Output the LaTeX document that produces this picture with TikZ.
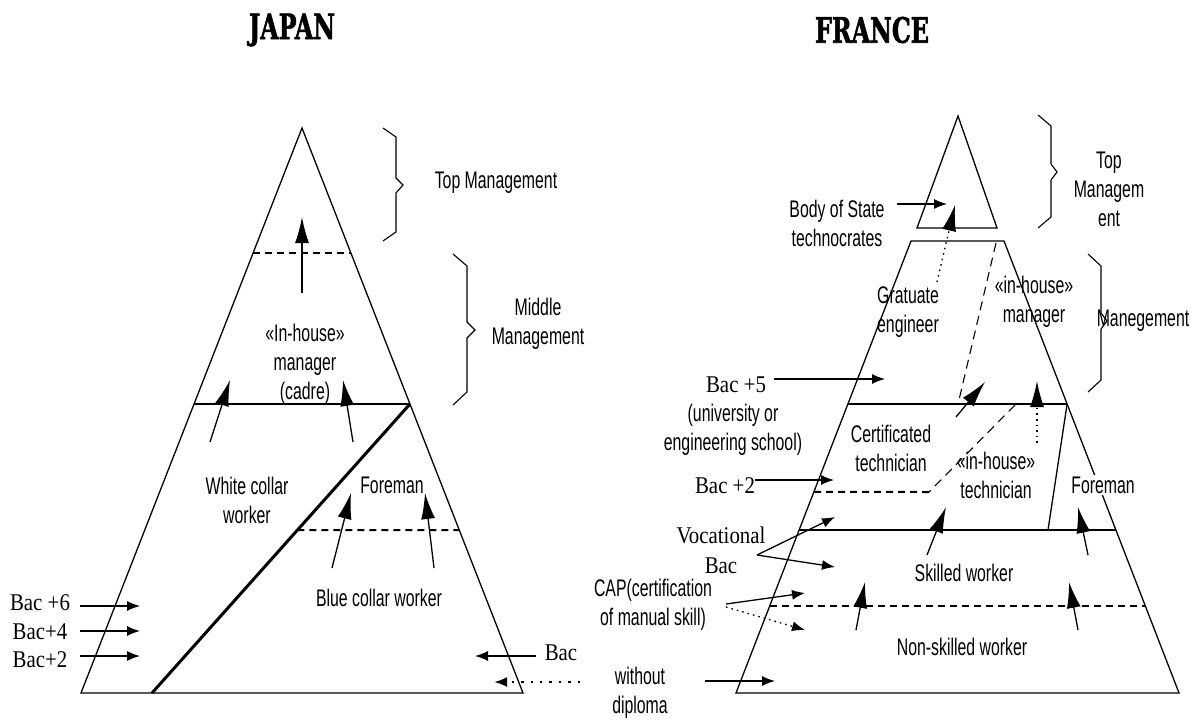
\documentclass[tikz,border=0pt]{standalone}
\usepackage{fontspec}
\usetikzlibrary{arrows.meta,calc}
\newfontfamily\arialn{Liberation Sans}[FakeStretch=0.66]
\newfontfamily\timesn{Liberation Serif}[FakeStretch=0.87]
\newfontfamily\titlef{DejaVu Serif}[FakeStretch=0.68, BoldFeatures={FakeBold=1.5}]
\tikzset{
  sans/.style={font=\arialn\fontsize{24}{29}\selectfont, align=center, inner sep=0pt},
  serif/.style={font=\timesn\fontsize{24}{30}\selectfont, align=center, inner sep=0pt},
  ttl/.style={font=\titlef\bfseries\fontsize{35}{35}\selectfont, inner sep=0pt},
  ln/.style={line width=1.3pt, line join=miter},
  thickln/.style={line width=3pt},
  dsh/.style={line width=2pt, dash pattern=on 7pt off 5pt},
  thindsh/.style={line width=1.1pt, dash pattern=on 9pt off 6pt},
  dotln/.style={dash pattern=on 1.6pt off 4pt},
  bigdots/.style={line width=2.4pt, dash pattern=on 2.4pt off 7pt},
  bigarr/.style={line width=1.3pt, -{Latex[length=26pt,width=14pt]}},
  smallarr/.style={line width=1.3pt, -{Latex[length=13pt,width=10pt]}},
}
\begin{document}
\begin{tikzpicture}[x=1pt,y=-1pt]
\useasboundingbox (0,0) rectangle (1201,720);
% ================= JAPAN =================
\node[ttl] (tJ) at (292,30) {JAPAN};
\coordinate (JA) at (302,128);
\coordinate (JL) at (81,693);
\coordinate (JR) at (523,693);
\draw[ln] (JA) -- (JR) -- (JL) -- cycle;
\coordinate (JDl) at ($(JA)!0.2212!(JL)$);
\coordinate (JDr) at ($(JA)!0.2212!(JR)$);
\draw[dsh] (JDl) -- (JDr);
\coordinate (JMl) at ($(JA)!0.4885!(JL)$);
\coordinate (JMr) at ($(JA)!0.4885!(JR)$);
\draw[ln] (JMl) -- (JMr);
\coordinate (JB2) at (152,693);
\draw[thickln] (JMr) -- (JB2);
\coordinate (JFl) at ($(JMr)!0.436!(JB2)$);
\coordinate (JFr) at ($(JA)!0.7115!(JR)$);
\draw[dsh] (JFl) -- (JFr);
% braces
\coordinate (bt1) at (383,128); \coordinate (bt2) at (396,137); \coordinate (bt3) at (396,178);
\coordinate (bt4) at (403,185); \coordinate (bt5) at (396,193); \coordinate (bt6) at (396,232);
\coordinate (bt7) at (383,241);
\draw[line width=1.1pt] (bt1) -- (bt2) -- (bt3) -- (bt4) -- (bt5) -- (bt6) -- (bt7);
\coordinate (bm1) at (453,254); \coordinate (bm2) at (467,266); \coordinate (bm3) at (467,322);
\coordinate (bm4) at (475,330); \coordinate (bm5) at (467,338); \coordinate (bm6) at (467,392);
\coordinate (bm7) at (453,405);
\draw[line width=1.1pt] (bm1) -- (bm2) -- (bm3) -- (bm4) -- (bm5) -- (bm6) -- (bm7);
% texts
\node[sans] (jtop) at (496,183) {Top Management};
\node[sans] (jmid) at (538,324) {Middle\\Management};
\node[sans] (jcad) at (305,364) {«In-house»\\manager\\(cadre)};
\node[sans] (jwhite) at (247,500) {White collar\\worker};
\node[sans] (jfore) at (392,485) {Foreman};
\node[sans] (jblue) at (379,598) {Blue collar worker};
\node[serif] (jb6) at (40,603) {Bac +6};
\node[serif] (jb4) at (40,632) {Bac+4};
\node[serif] (jb2) at (40,660) {Bac+2};
\node[serif] (jbac) at (561,653) {Bac};
% arrows
\coordinate (ja1s) at (302,293); \coordinate (ja1e) at (302,217);
\draw[bigarr] (ja1s) -- (ja1e);
\coordinate (ja2s) at (210,442); \coordinate (ja2e) at (230,380);
\draw[bigarr] (ja2s) -- (ja2e);
\coordinate (ja3s) at (353,442); \coordinate (ja3e) at (343,380);
\draw[bigarr] (ja3s) -- (ja3e);
\coordinate (ja4s) at (332,568); \coordinate (ja4e) at (351,493);
\draw[bigarr] (ja4s) -- (ja4e);
\coordinate (ja5s) at (434,568); \coordinate (ja5e) at (425,493);
\draw[bigarr] (ja5s) -- (ja5e);
\coordinate (jb6s) at (80,606); \coordinate (jb6e) at (140,606);
\draw[smallarr] (jb6s) -- (jb6e);
\coordinate (jb4s) at (80,631); \coordinate (jb4e) at (140,631);
\draw[smallarr] (jb4s) -- (jb4e);
\coordinate (jb2s) at (80,656); \coordinate (jb2e) at (140,656);
\draw[smallarr] (jb2s) -- (jb2e);
\coordinate (jbs) at (536,656); \coordinate (jbe) at (475,656);
\draw[smallarr] (jbs) -- (jbe);
\coordinate (jds) at (580,682); \coordinate (jde) at (494,682);
\draw[smallarr, bigdots] (jds) -- (jde);
% ================= FRANCE =================
\node[ttl] (tF) at (872,30) {FRANCE};
\coordinate (FA) at (958,116);
\coordinate (Ftl) at (917,228);
\coordinate (Ftr) at (997,228);
\draw[ln] (FA) -- (Ftr) -- (Ftl) -- cycle;
\coordinate (Fa) at (911,241);
\coordinate (Fb) at (1004,241);
\coordinate (Fc) at (1179,693);
\coordinate (Fd) at (736,693);
\draw[ln] (Fa) -- (Fb) -- (Fc) -- (Fd) -- cycle;
\coordinate (F1l) at ($(Fa)!0.3606!(Fd)$);
\coordinate (F1r) at ($(Fb)!0.3606!(Fc)$);
\draw[ln] (F1l) -- (F1r);
\coordinate (F2l) at ($(Fa)!0.6394!(Fd)$);
\coordinate (F2r) at ($(Fb)!0.6394!(Fc)$);
\draw[ln] (F2l) -- (F2r);
\coordinate (F3l) at ($(Fa)!0.8075!(Fd)$);
\coordinate (F3r) at ($(Fb)!0.8075!(Fc)$);
\draw[dsh] (F3l) -- (F3r);
\coordinate (Ffd) at (1048,530);
\draw[ln] (F1r) -- (Ffd);
% dashed splits
\coordinate (Fs1) at (996,243); \coordinate (Fs2) at (958,404);
\draw[thindsh] (Fs1) -- (Fs2);
\coordinate (Fs3) at (1015,405); \coordinate (Fs4) at (929,492);
\coordinate (Fs5) at ($(Fa)!0.555!(Fd)$);
\draw[thindsh] (Fs3) -- (Fs4);
\draw[dsh] (Fs4) -- (Fs5);
% braces
\coordinate (ft1) at (1038,115); \coordinate (ft2) at (1051,126); \coordinate (ft3) at (1051,164);
\coordinate (ft4) at (1057,172); \coordinate (ft5) at (1051,180); \coordinate (ft6) at (1051,217);
\coordinate (ft7) at (1038,228);
\draw[line width=1.1pt] (ft1) -- (ft2) -- (ft3) -- (ft4) -- (ft5) -- (ft6) -- (ft7);
\coordinate (fm1) at (1088,254); \coordinate (fm2) at (1101,266); \coordinate (fm3) at (1101,313);
\coordinate (fm4) at (1107,321); \coordinate (fm5) at (1101,329); \coordinate (fm6) at (1101,380);
\coordinate (fm7) at (1088,392);
\draw[line width=1.1pt] (fm1) -- (fm2) -- (fm3) -- (fm4) -- (fm5) -- (fm6) -- (fm7);
% texts
\node[sans] (ftop) at (1109,189) {Top\\Managem\\ent};
\node[sans] (fbody) at (837,223) {Body of State\\technocrates};
\node[sans] (fgrad) at (908,312) {Gratuate\\engineer};
\node[sans] (fman) at (1034,302) {«in-house»\\manager};
\node[sans] (fmng) at (1143,321) {Manegement};
\node[serif] (fb5) at (736,385) {Bac +5};
\node[sans] (funi) at (733,430) {(university or\\engineering school)};
\node[sans] (fcert) at (891,448) {Certificated\\technician};
\node[sans] (ftech) at (996,475) {«in-house»\\technician};
\node[serif] (fb2) at (725,486) {Bac +2};
\node[sans, fill=white, inner sep=2pt] (ffore) at (1103,485) {Foreman};
\node[serif] (fvoc) at (721,550) {Vocational\\Bac};
\node[sans] (fskill) at (964,573) {Skilled worker};
\node[sans] (fnon) at (962,647) {Non-skilled worker};
\node[sans] (fcap) at (653,605) {CAP(certification\\of manual skill)};
\node[sans] (fwo) at (640,693) {without\\diploma};
% arrows
\coordinate (fa1s) at (897,204); \coordinate (fa1e) at (947,204);
\draw[smallarr] (fa1s) -- (fa1e);
\coordinate (fa2s) at (937,282); \coordinate (fa2e) at (955,205);
\draw[bigarr, dotln] (fa2s) -- (fa2e);
\coordinate (fa3s) at (956,417); \coordinate (fa3e) at (985,382);
\draw[bigarr] (fa3s) -- (fa3e);
\coordinate (fa4s) at (1037,443); \coordinate (fa4e) at (1037,381);
\draw[bigarr, dotln] (fa4s) -- (fa4e);
\coordinate (fb5s) at (774,379); \coordinate (fb5e) at (885,379);
\draw[smallarr] (fb5s) -- (fb5e);
\coordinate (fb2s) at (755,480); \coordinate (fb2e) at (834,480);
\draw[smallarr] (fb2s) -- (fb2e);
\coordinate (fa5s) at (927,555); \coordinate (fa5e) at (946,507);
\draw[bigarr] (fa5s) -- (fa5e);
\coordinate (fa6s) at (1088,555); \coordinate (fa6e) at (1078,507);
\draw[bigarr] (fa6s) -- (fa6e);
\coordinate (fvs) at (757,555); \coordinate (fv1) at (835,517); \coordinate (fv2) at (835,567);
\draw[smallarr] (fvs) -- (fv1);
\draw[smallarr] (fvs) -- (fv2);
\coordinate (fa7s) at (856,630); \coordinate (fa7e) at (865,582);
\draw[bigarr] (fa7s) -- (fa7e);
\coordinate (fa8s) at (1078,630); \coordinate (fa8e) at (1069,582);
\draw[bigarr] (fa8s) -- (fa8e);
\coordinate (fcs1) at (726,604); \coordinate (fce1) at (805,593);
\draw[smallarr] (fcs1) -- (fce1);
\coordinate (fcs2) at (726,607); \coordinate (fce2) at (805,630);
\draw[smallarr, dotln] (fcs2) -- (fce2);
\coordinate (fws) at (705,681); \coordinate (fwe) at (775,681);
\draw[smallarr] (fws) -- (fwe);
\end{tikzpicture}
\end{document}
